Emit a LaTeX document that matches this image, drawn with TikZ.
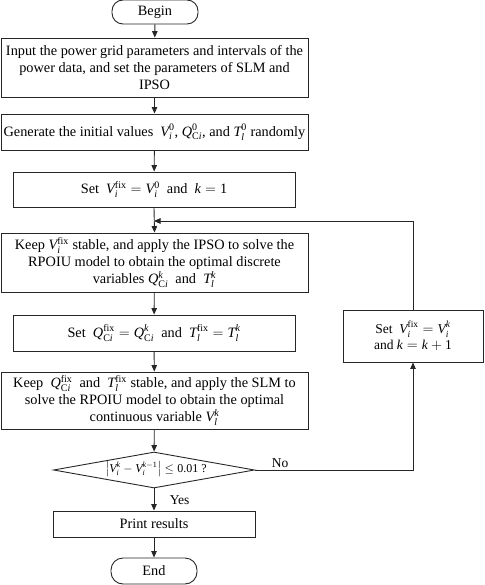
\documentclass[tikz,border=0pt]{standalone}
\usepackage{amsmath}
\usepackage{fontspec}
\setmainfont{Liberation Serif}
\usetikzlibrary{shapes.geometric,arrows.meta}
\newcommand\mi[1]{\text{\itshape #1}}
\newcommand\mr[1]{\text{#1}}
\begin{document}
\begin{tikzpicture}[x=1pt,y=-1pt,
  every node/.style={font=\fontsize{14.3}{17}\selectfont},
  box/.style={draw=black!85,line width=0.9pt,rectangle,inner sep=0pt,align=center},
  term/.style={draw=black!85,line width=0.9pt,rectangle,rounded corners=11pt,inner sep=0pt,minimum width=86pt,minimum height=24pt},
  dec/.style={draw=black!85,line width=0.9pt,diamond,aspect=5.5,inner sep=0pt,minimum width=201pt,minimum height=36pt},
  conn/.style={draw=black!85,line width=0.9pt,-{Triangle[length=6.5pt,width=5.5pt]}},
  lbl/.style={font=\fontsize{13.5}{15}\selectfont}]
\useasboundingbox (0,0) rectangle (484,585);
\node[term] (begin) at (155,12) {Begin};
\node[box,minimum width=307pt,minimum height=59pt] (b1) at (154.5,67.5)
  {Input the power grid parameters and intervals of the\\power data, and set the parameters of SLM and\\IPSO};
\node[box,minimum width=307pt,minimum height=36pt] (b2) at (154.5,132)
  {Generate the initial values \ $\mi{V}_{\mi{i}}^{\mr{0}}$, $\mi{Q}_{\mr{C}\mi{i}}^{\mr{0}}$, and $\mi{T}_{\mi{l}}^{\mr{0}}$ randomly};
\node[box,minimum width=282pt,minimum height=35pt] (b3) at (154,189.5)
  {Set \ $\mi{V}_{\mi{i}}^{\mr{fix}}=\mi{V}_{\mi{i}}^{\mr{0}}$ \ and \ $\mi{k}=\mr{1}$};
\node[box,minimum width=307pt,minimum height=59pt] (b4) at (154.5,262.5)
  {Keep $\mi{V}_{\mi{i}}^{\mr{fix}}$ stable, and apply the IPSO to solve the\\RPOIU model to obtain the optimal discrete\\variables $\mi{Q}_{\mr{C}\mi{i}}^{\mi{k}}$ \ and \ $\mi{T}_{\mi{l}}^{\mi{k}}$};
\node[box,minimum width=282pt,minimum height=36pt] (b5) at (154,333)
  {Set \ $\mi{Q}_{\mr{C}\mi{i}}^{\mr{fix}}=\mi{Q}_{\mr{C}\mi{i}}^{\mi{k}}$ \ and \ $\mi{T}_{\mi{l}}^{\mr{fix}}=\mi{T}_{\mi{l}}^{\mi{k}}$};
\node[box,minimum width=307pt,minimum height=57pt] (b6) at (154.5,400.5)
  {Keep \ $\mi{Q}_{\mr{C}\mi{i}}^{\mr{fix}}$ \ and \ $\mi{T}_{\mi{l}}^{\mr{fix}}$ stable, and apply the SLM to\\solve the RPOIU model to obtain the optimal\\continuous variable $\mi{V}_{\mi{l}}^{\mi{k}}$};
\node[dec] (dia) at (154,470) {};
\node[inner sep=0pt,font=\fontsize{12}{14}\selectfont] (diat) at (156,469)
  {$\left|\mi{V}_{\mi{i}}^{\mi{k}}-\mi{V}_{\mi{i}}^{\mi{k}-\mr{1}}\right|\le\mr{0.01}$ ?};
\node[box,minimum width=202pt,minimum height=26pt] (pr) at (154,524) {Print results};
\node[term,minimum height=26pt,rounded corners=12pt] (end) at (154,571) {End};
\node[box,minimum width=140pt,minimum height=52pt,font=\fontsize{13.5}{16}\selectfont] (rb) at (413,336)
  {Set \ $\mi{V}_{\mi{i}}^{\mr{fix}}=\mi{V}_{\mi{i}}^{\mi{k}}$\\and $\mi{k}=\mi{k}+\mr{1}$};
\coordinate (join) at (154,221);
\coordinate (corner) at (413,470);
\draw[conn] (begin) -- (b1);
\draw[conn] (b1) -- (b2);
\draw[conn] (b2) -- (b3);
\draw[conn] (b3.south) -- (b4.north);
\draw[conn] (b4) -- (b5);
\draw[conn] (b5) -- (b6);
\draw[conn] (b6) -- (dia);
\draw[conn] (dia) -- node[lbl,right,pos=0.55,xshift=12pt] {Yes} (pr);
\draw[conn] (pr) -- (end);
\draw[conn] (dia.east) -- node[lbl,above,pos=0.16,yshift=-1pt] {No} (corner) -- (rb.south);
\draw[conn] (rb.north) |- (join);
\end{tikzpicture}
\end{document}
